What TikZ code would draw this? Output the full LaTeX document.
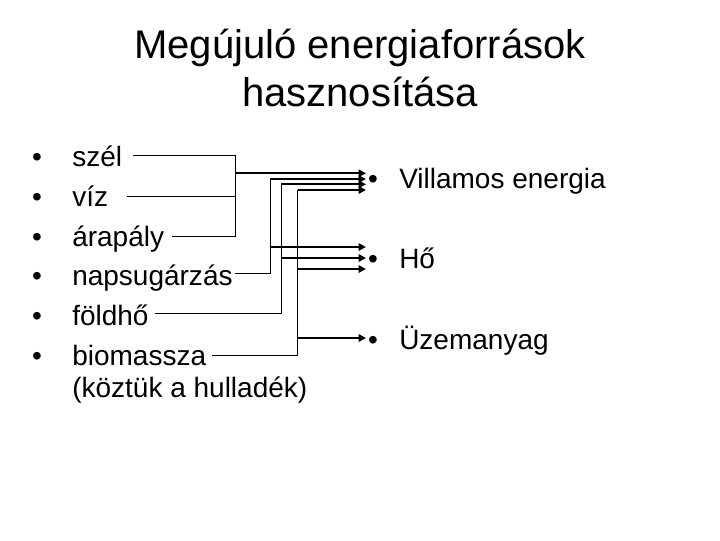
\documentclass[tikz,border=0pt]{standalone}
\usepackage{fontspec}
\setmainfont{Liberation Sans}
\usetikzlibrary{arrows.meta}
\begin{document}
\begin{tikzpicture}[x=0.75pt,y=-0.75pt,
  txt/.style={anchor=base west,inner sep=0pt,font=\fontsize{21}{25}\selectfont},
  bul/.style={anchor=base,inner sep=0pt,font=\fontsize{21}{25}\selectfont},
  ttl/.style={anchor=base,inner sep=0pt,font=\fontsize{30}{36}\selectfont},
  src/.style={line width=0.75pt,line cap=rect},
  arr/.style={line width=1.5pt,-{Triangle[length=5.5pt,width=5.5pt]}}]
\useasboundingbox (0,0) rectangle (720,540);
% title
\node[ttl] (t1) at (360,58) {Megújuló energiaforrások};
\node[ttl] (t2) at (360,106) {hasznosítása};
% left list
\foreach \y in {166,206,246,285,325,365} \node[bul] at (37,\y) {•};
\node[txt] (szel) at (72,166) {szél};
\node[txt] (viz) at (72,206) {víz};
\node[txt] (arapaly) at (72,246) {árapály};
\node[txt] (napsug) at (72,285) {napsugárzás};
\node[txt] (foldho) at (72,325) {földhő};
\node[txt] (biom) at (72,365) {biomassza};
\node[txt] (koztuk) at (72,397) {(köztük a hulladék)};
% right list
\foreach \y in {188,268,349} \node[bul] at (373,\y) {•};
\node[txt] (vill) at (399,188) {Villamos energia};
\node[txt] (ho) at (399,268) {Hő};
\node[txt] (uzem) at (399,349) {Üzemanyag};
% connector points
\coordinate (s1) at (133,155.7);
\coordinate (v1) at (127,196.7);
\coordinate (a1) at (172,236.7);
\coordinate (n1) at (235,273.3);
\coordinate (f1) at (155,313.3);
\coordinate (b1) at (212,355);
\coordinate (jA) at (235.7,155.7);
\coordinate (jB) at (235.7,236.7);
\coordinate (xn) at (270,273.3);
\coordinate (xf) at (281,313.3);
\coordinate (xb) at (297.7,355);
\coordinate (eV1) at (366,173.3);
\coordinate (eV2) at (366,179);
\coordinate (eV3) at (366,184.3);
\coordinate (eV4) at (366,190);
\coordinate (eH1) at (366,247);
\coordinate (eH2) at (366,258);
\coordinate (eH3) at (366,269);
\coordinate (eU1) at (366,338);
% wind, water, tide
\draw[src] (s1) -- (jA) -- (jB) -- (a1);
\draw[src] (v1) -- (v1 -| jA);
\draw[arr] (jA |- eV1) -- (eV1);
% solar
\draw[src] (n1) -- (xn) -- (xn |- eV2);
\draw[arr] (xn |- eV2) -- (eV2);
\draw[arr] (xn |- eH1) -- (eH1);
% geothermal
\draw[src] (f1) -- (xf) -- (xf |- eV3);
\draw[arr] (xf |- eV3) -- (eV3);
\draw[arr] (xf |- eH2) -- (eH2);
% biomass
\draw[src] (b1) -- (xb) -- (xb |- eV4);
\draw[arr] (xb |- eV4) -- (eV4);
\draw[arr] (xb |- eH3) -- (eH3);
\draw[arr] (xb |- eU1) -- (eU1);
\end{tikzpicture}
\end{document}
